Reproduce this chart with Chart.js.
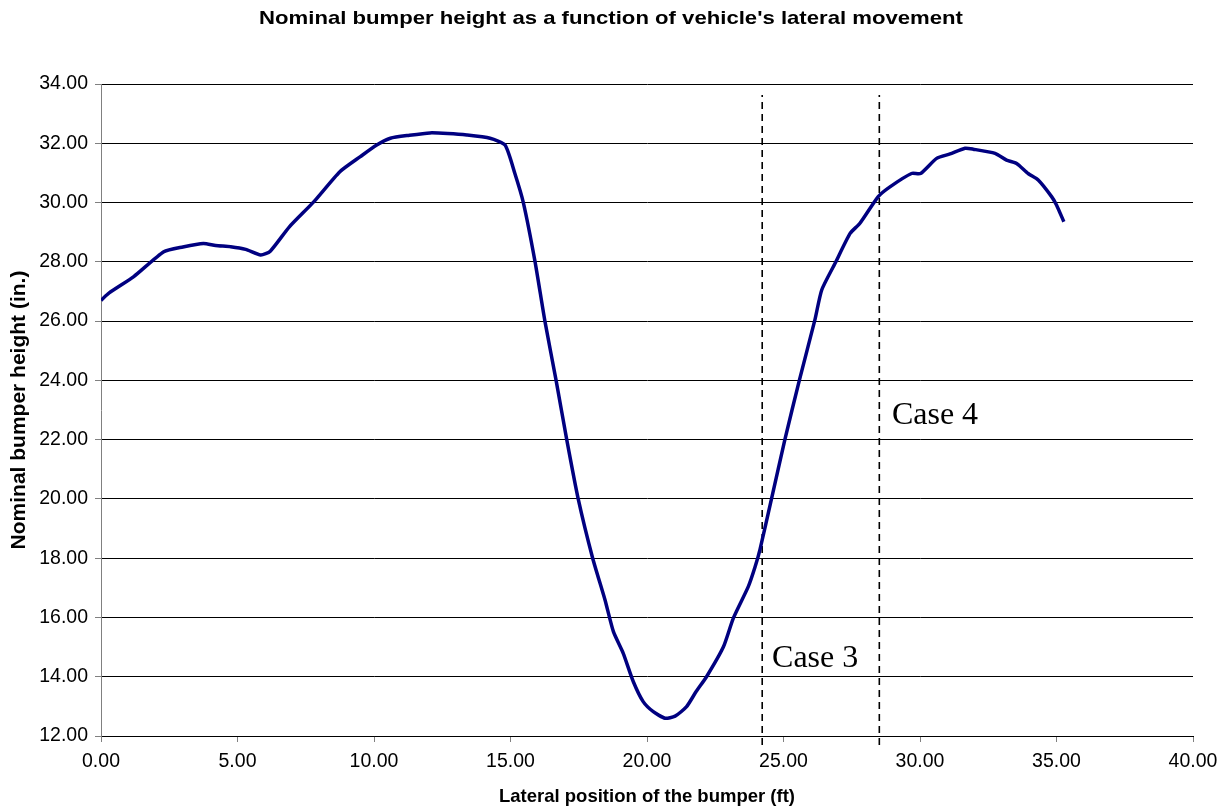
<!DOCTYPE html>
<html>
<head>
<meta charset="utf-8">
<script src="https://cdn.jsdelivr.net/npm/chart.js@4/dist/chart.umd.min.js"></script>
<style>
  html, body { margin: 0; padding: 0; background: #fff; }
  #wrap { width: 1226px; height: 808px; }
</style>
</head>
<body>
<div id="wrap"><canvas id="bumperChart"></canvas></div>
<script>
// lateral position (ft) and nominal bumper height (in.)
const positionFt = [0, 0.3, 1.2, 2.3, 3.0, 3.75, 4.2, 4.75, 5.3, 5.85, 6.2, 6.9, 7.8, 8.75, 9.5, 10.1, 10.6, 11.3, 12.05, 12.7,
    13.4, 14.25, 14.8, 15.16, 15.47, 15.9, 16.26, 16.67, 17.06, 17.48, 18.01, 18.46, 18.77, 19.13, 19.5, 19.86, 20.23, 20.66,
    21.03, 21.45, 21.8, 22.18, 22.8, 23.16, 23.71, 23.96, 24.14, 24.56, 25.05, 25.58, 26.15, 26.4, 26.89, 27.44, 27.8, 28.47,
    28.9, 29.69, 30.02, 30.61, 31.1, 31.65, 31.95, 32.75, 33.17, 33.54, 33.96, 34.33, 34.82, 35.0, 35.27];
const heightIn = [26.7, 26.95, 27.5, 28.34, 28.5, 28.62, 28.55, 28.51, 28.42, 28.23, 28.36, 29.18, 30.03, 31.04, 31.55, 31.94, 32.17, 32.27, 32.35, 32.33,
    32.28, 32.17, 31.94, 30.98, 30.0, 28.0, 26.0, 24.0, 22.0, 20.0, 18.0, 16.6, 15.52, 14.79, 13.83, 13.16, 12.82, 12.6,
    12.67, 12.99, 13.5, 14.0, 15.01, 15.97, 17.04, 17.71, 18.3, 20.0, 22.0, 24.0, 26.04, 27.05, 27.95, 28.96, 29.3, 30.2,
    30.53, 30.98, 30.98, 31.49, 31.64, 31.83, 31.8, 31.66, 31.43, 31.32, 30.98, 30.76, 30.2, 29.92, 29.35];

// case boundaries (dashed verticals) and their labels
const caseLines = [24.22, 28.51];
const caseSpan = [11.7, 33.63];
const caseLabels = ['Case 3', 'Case 4'];
const caseLabelAt = [[24.58, 14.33], [28.97, 22.53]];

const xTicks = [0, 5, 10, 15, 20, 25, 30, 35, 40];
const yMin = 12, yMax = 34, yStep = 2;

const points = positionFt.map((x, i) => ({ x: x, y: heightIn[i] }));

const dashedSets = caseLines.map(x => ({
    data: [{ x: x, y: caseSpan[0] }, { x: x, y: caseSpan[1] }],
    borderColor: '#000',
    borderWidth: 1.6,
    borderDash: [7, 5],
    pointRadius: 0,
    clip: false,
}));

const caseText = {
    id: 'caseText',
    afterDatasetsDraw(chart) {
        const { ctx, scales } = chart;
        ctx.save();
        ctx.font = '32px "Liberation Serif", "Times New Roman", serif';
        ctx.fillStyle = '#000';
        ctx.textBaseline = 'alphabetic';
        ctx.textAlign = 'left';
        caseLabels.forEach((txt, i) => {
            ctx.fillText(txt, scales.x.getPixelForValue(caseLabelAt[i][0]), scales.y.getPixelForValue(caseLabelAt[i][1]));
        });
        ctx.restore();
    }
};

// title text in the original is stretched sideways a bit
const chartTitle = {
    id: 'chartTitle',
    afterDraw(chart) {
        const { ctx } = chart;
        ctx.save();
        ctx.font = 'bold 19px "Liberation Sans", Arial, sans-serif';
        ctx.fillStyle = '#000';
        ctx.textAlign = 'center';
        ctx.textBaseline = 'middle';
        ctx.translate(611, 19);
        ctx.scale(1.165, 1);
        ctx.fillText("Nominal bumper height as a function of vehicle's lateral movement", 0, 0);
        ctx.restore();
    }
};

const ctx = document.getElementById('bumperChart').getContext('2d');
new Chart(ctx, {
    type: 'line',
    data: {
        datasets: [{
            data: points,
            borderColor: '#000080',
            borderWidth: 3.5,
            pointRadius: 0,
            tension: 0.2,
        }, ...dashedSets]
    },
    options: {
        responsive: true,
        maintainAspectRatio: false,
        animation: false,
        layout: { padding: { top: 84, right: 33, left: 0, bottom: 0 } },
        plugins: {
            legend: { display: false },
            tooltip: { enabled: false }
        },
        scales: {
            x: {
                type: 'linear',
                min: 0,
                max: 40,
                afterBuildTicks: scale => { scale.ticks = xTicks.map(v => ({ value: v })); },
                afterFit: scale => { scale.height = 72; },
                grid: { drawOnChartArea: false, color: '#808080', tickLength: 6 },
                border: { color: '#000', width: 1 },
                ticks: {
                    color: '#000',
                    padding: 8,
                    maxRotation: 0,
                    font: { family: '"Liberation Sans", Arial, sans-serif', size: 19.5 },
                    callback: v => v.toFixed(2)
                },
                title: {
                    display: true,
                    text: 'Lateral position of the bumper (ft)',
                    color: '#000',
                    font: { family: '"Liberation Sans", Arial, sans-serif', size: 18.5, weight: 'bold' },
                    padding: { top: 0, bottom: 0 }
                }
            },
            y: {
                min: yMin,
                max: yMax,
                afterFit: scale => { scale.width = 101; },
                grid: { color: '#000', tickColor: '#808080', tickLength: 6, lineWidth: 1 },
                border: { color: '#808080', width: 1 },
                ticks: {
                    stepSize: yStep,
                    color: '#000',
                    padding: 7,
                    font: { family: '"Liberation Sans", Arial, sans-serif', size: 19.5 },
                    callback: v => v.toFixed(2)
                },
                title: {
                    display: true,
                    text: 'Nominal bumper height (in.)',
                    color: '#000',
                    font: { family: '"Liberation Sans", Arial, sans-serif', size: 21, weight: 'bold' },
                    padding: { top: 7, bottom: 0 }
                }
            }
        }
    },
    plugins: [caseText, chartTitle]
});
</script>
</body>
</html>
